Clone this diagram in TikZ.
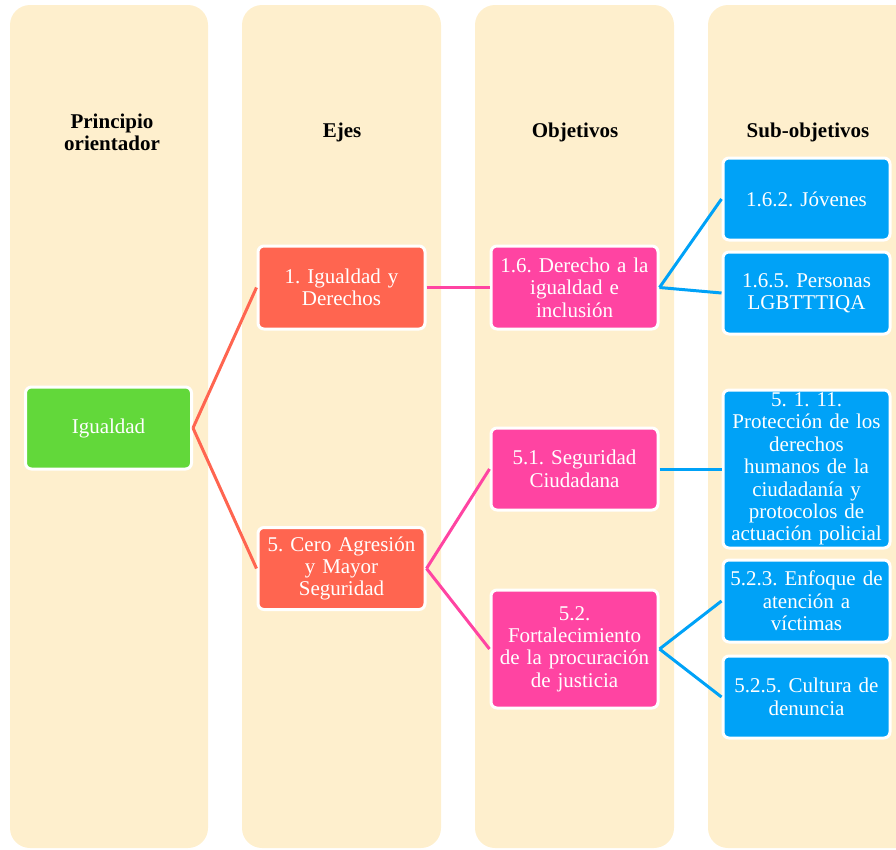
\documentclass[tikz,border=0pt]{standalone}
\usepackage{fontspec}
\setmainfont{Liberation Serif}
\frenchspacing
\definecolor{cream}{HTML}{FEEFCD}
\definecolor{cgreen}{HTML}{62D83A}
\definecolor{corange}{HTML}{FF6550}
\definecolor{cpink}{HTML}{FF44A2}
\definecolor{cblue}{HTML}{00A2F7}
\tikzset{
  colbg/.style={fill=cream, rounded corners=20pt},
  header/.style={font=\fontsize{21}{22}\selectfont\bfseries, align=center, text=black},
  box/.style={draw=white, line width=3pt, rounded corners=6pt, text=white,
    minimum width=167pt, text width=164pt, align=center, inner sep=0pt,
    font=\fontsize{21}{22.4}\selectfont},
  gbox/.style={box, fill=cgreen},
  obox/.style={box, fill=corange},
  pbox/.style={box, fill=cpink},
  bbox/.style={box, fill=cblue},
  olink/.style={draw=corange, line width=3pt},
  plink/.style={draw=cpink, line width=3pt},
  blink/.style={draw=cblue, line width=3pt},
}
\begin{document}
\begin{tikzpicture}[x=1pt,y=-1pt]
\useasboundingbox (0,0) rectangle (896,849);
\clip (0,0) rectangle (896,849);
\fill[colbg] (10,5) rectangle (208,848);
\fill[colbg] (242,5) rectangle (441,848);
\fill[colbg] (475,5) rectangle (674,848);
\fill[colbg] (708,5) rectangle (930,848);

\node[header] (h1) at (112,132) {Principio\\orientador};
\node[header] (h2) at (342,132) {Ejes};
\node[header] (h3) at (575,132) {Objetivos};
\node[header] (h4) at (808,132) {Sub-objetivos};

\node[gbox, minimum height=82pt, minimum width=166pt] (ig) at (108.5,428) {Igualdad};

\node[obox, minimum height=83pt] (e1) at (341.5,287.5) {1. Igualdad y\\Derechos};
\node[obox, minimum height=82pt] (e5) at (341.5,568.5) {5. Cero Agresión\\y Mayor\\Seguridad};

\node[pbox, minimum height=83pt] (o16) at (574.5,287.5) {1.6. Derecho a la\\igualdad e\\inclusión};
\node[pbox, minimum height=82pt] (o51) at (574.5,469) {5.1. Seguridad\\Ciudadana};
\node[pbox, minimum height=118pt] (o52) at (574.5,649) {5.2.\\Fortalecimiento\\de la procuración\\de justicia};

\node[bbox, minimum height=82pt] (s162) at (806.5,199) {1.6.2. Jóvenes};
\node[bbox, minimum height=82pt] (s165) at (806.5,293) {1.6.5. Personas\\LGBTTTIQA};
\node[bbox, minimum height=158pt] (s511) at (806.5,469) {5. 1. 11.\\Protección de los\\derechos\\humanos de la\\ciudadanía y\\protocolos de\\actuación policial};
\node[bbox, minimum height=82pt] (s523) at (806.5,601) {5.2.3. Enfoque de\\atención a\\víctimas};
\node[bbox, minimum height=82pt] (s525) at (806.5,697) {5.2.5. Cultura de\\denuncia};

\draw[olink] (ig.east) -- (e1.west);
\draw[olink] (ig.east) -- (e5.west);
\draw[plink] (e1.east) -- (o16.west);
\draw[plink] (e5.east) -- (o51.west);
\draw[plink] (e5.east) -- (o52.west);
\draw[blink] (o16.east) -- (s162.west);
\draw[blink] (o16.east) -- (s165.west);
\draw[blink] (o51.east) -- (s511.west);
\draw[blink] (o52.east) -- (s523.west);
\draw[blink] (o52.east) -- (s525.west);
\end{tikzpicture}
\end{document}
